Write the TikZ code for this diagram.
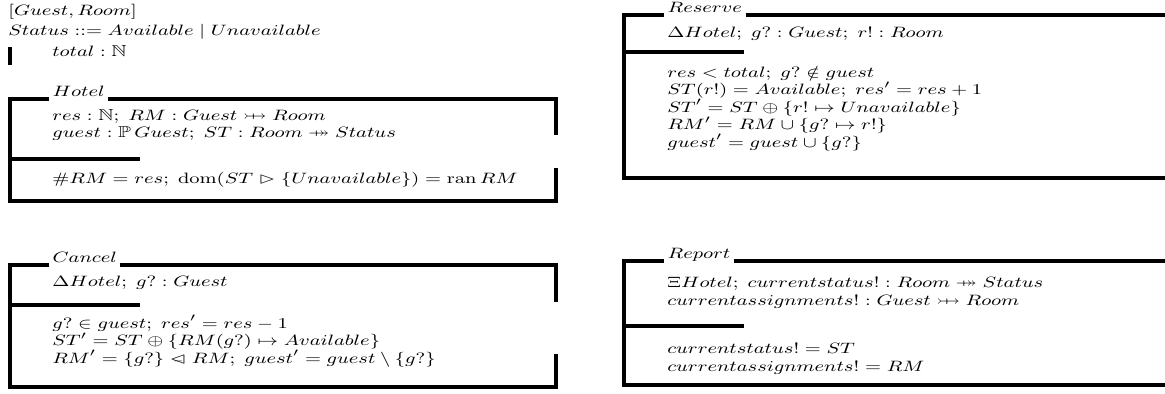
\documentclass[tikz,border=0pt]{standalone}
\usepackage{amssymb}
\usetikzlibrary{positioning}

% Z relation symbols
\newcommand\pinj{\mathrel{\ooalign{$\rightarrowtail$\cr\hfil$\mapstochar\mkern5mu$\hfil\cr}}}
\newcommand\psurj{\mathrel{\ooalign{$\twoheadrightarrow$\cr\hfil$\mapstochar\mkern7mu$\hfil\cr}}}
\newcommand\ndres{\mathrel{\ooalign{$\lhd$\cr\hfil$\scriptscriptstyle-$\hfil\cr}}}
\newcommand\rres{\mathrel{\rhd}}
\newcommand\zdom{\mathop{\mathrm{dom}}}
\newcommand\zran{\mathop{\mathrm{ran}}}
% wide-set math line
\newcommand\zmath[1]{\scalebox{1.33}[1]{$#1$}}

\begin{document}
\begin{tikzpicture}[x=0.6pt, y=-0.6pt]
% STYLES
\tikzset{%
    zline/.style={%
anchor=base west,
inner sep=0pt,
font=\fontsize{9.5}{11}\selectfont
                 },
    ztitle/.style={%
zline,
inner xsep=2pt
                  },
    zframe/.style={%
line width=2.4pt
                  }
             }
\useasboundingbox (0,0) rectangle (1165,394);

% Given sets, free type, axiomatic definition
\node [zline] (given) at (8,15) {\zmath{[Guest, Room]}};
\node [zline] (status) at (8,35) {\zmath{Status \mathrel{::=} Available \mid Unavailable}};
\node [zline] (total) at (52,56) {\zmath{total : \mathbb{N}}};
\draw [zframe] (10,47) -- (10,65);

% Hotel state schema
\node [ztitle] (hotel) at (49,96) {\zmath{Hotel}};
\draw [zframe] (hotel.west |- 0,99) -- (10,99) -- (10,201) -- (556,201) -- (556,168);
\draw [zframe] (hotel.east |- 0,99) -- (556,99) -- (556,135);
\draw [zframe] (10,159) -- (140,159);
\node [zline] (hotelA) at (52,120) {\zmath{res : \mathbb{N};\; RM : Guest \pinj Room}};
\node [zline] (hotelB) at (52,137.5) {\zmath{guest : \mathbb{P}\,Guest;\; ST : Room \psurj Status}};
\node [zline] (hotelC) at (52,183) {\zmath{\#RM = res;\; \zdom(ST \rres \{Unavailable\}) = \zran RM}};

% Reserve operation
\node [ztitle] (reserve) at (664,12) {\zmath{Reserve}};
\draw [zframe] (reserve.west |- 0,15) -- (624,15) -- (624,178) -- (1165,178);
\draw [zframe] (reserve.east |- 0,15) -- (1165,15);
\draw [zframe] (624,52) -- (744,52);
\node [zline] (reserveA) at (667,37) {\zmath{\Delta Hotel;\; g? : Guest;\; r! : Room}};
\node [zline] (reserveB) at (667,77) {\zmath{res < total;\; g? \notin guest}};
\node [zline] (reserveC) at (667,94.5) {\zmath{ST(r!) = Available;\; res' = res + 1}};
\node [zline] (reserveD) at (667,112) {\zmath{ST' = ST \oplus \{r! \mapsto Unavailable\}}};
\node [zline] (reserveE) at (667,129.5) {\zmath{RM' = RM \cup \{g? \mapsto r!\}}};
\node [zline] (reserveF) at (667,147) {\zmath{guest' = guest \cup \{g?\}}};

% Cancel operation
\node [ztitle] (cancel) at (49,262) {\zmath{Cancel}};
\draw [zframe] (cancel.west |- 0,265) -- (10,265) -- (10,387) -- (556,387) -- (556,354);
\draw [zframe] (cancel.east |- 0,265) -- (556,265) -- (556,302);
\draw [zframe] (10,305) -- (140,305);
\node [zline] (cancelA) at (52,286) {\zmath{\Delta Hotel;\; g? : Guest}};
\node [zline] (cancelB) at (52,328) {\zmath{g? \in guest;\; res' = res - 1}};
\node [zline] (cancelC) at (52,345.5) {\zmath{ST' = ST \oplus \{RM(g?) \mapsto Available\}}};
\node [zline] (cancelD) at (52,363) {\zmath{RM' = \{g?\} \ndres RM;\; guest' = guest \setminus \{g?\}}};

% Report operation
\node [ztitle] (report) at (664,258) {\zmath{Report}};
\draw [zframe] (report.west |- 0,261) -- (624,261) -- (624,385) -- (1165,385);
\draw [zframe] (report.east |- 0,261) -- (1165,261);
\draw [zframe] (624,326) -- (744,326);
\node [zline] (reportA) at (667,287) {\zmath{\Xi Hotel;\; currentstatus! : Room \psurj Status}};
\node [zline] (reportB) at (667,305) {\zmath{currentassignments! : Guest \pinj Room}};
\node [zline] (reportC) at (667,353) {\zmath{currentstatus! = ST}};
\node [zline] (reportD) at (667,371) {\zmath{currentassignments! = RM}};
\end{tikzpicture}
\end{document}
